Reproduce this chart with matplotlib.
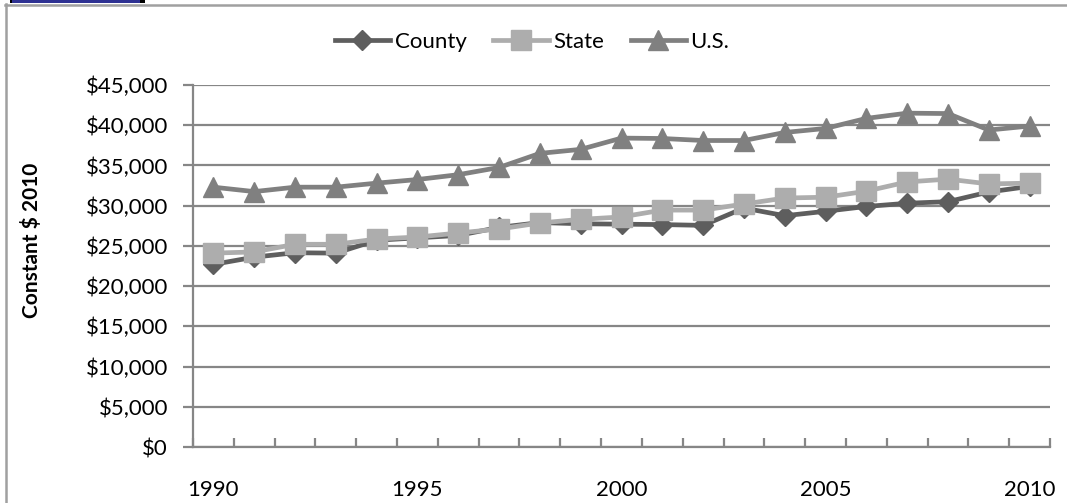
import matplotlib
matplotlib.use("Agg")
import matplotlib.pyplot as plt
from matplotlib.patches import Rectangle
from matplotlib.lines import Line2D
from matplotlib.ticker import FuncFormatter

years = list(range(1990, 2011))
county = [22700, 23600, 24150, 24100, 25700, 26000, 26300, 27300, 27900, 27750,
          27700, 27650, 27550, 29700, 28750, 29300, 29900, 30300, 30500, 31700, 32400]
state = [24100, 24250, 25200, 25200, 25850, 26100, 26600, 27100, 27850, 28300,
         28600, 29450, 29450, 30200, 30950, 31050, 31800, 32950, 33300, 32700, 32800]
us = [32300, 31750, 32300, 32300, 32800, 33250, 33850, 34750, 36500, 37000,
      38400, 38350, 38100, 38100, 39100, 39600, 40850, 41500, 41450, 39400, 39900]
series_names = ["County", "State", "U.S."]
y_ticks = [0, 5000, 10000, 15000, 20000, 25000, 30000, 35000, 40000, 45000]
x_labels = [1990, 1995, 2000, 2005, 2010]

plt.rcParams['font.family'] = ['Lato', 'DejaVu Sans']

W, H = 1067, 503
fig = plt.figure(figsize=(W / 100, H / 100), dpi=100)
ax = fig.add_axes([193 / W, 1 - 447 / H, (1050 - 193) / W, (447 - 85) / H])

gc = '#868686'
c_county, c_state, c_us = '#5e5e5e', '#adadad', '#808080'
fs = 16

ax.plot(years, county, color=c_county, lw=3.4, marker='D', ms=10, mec=c_county, label=series_names[0], zorder=3)
ax.plot(years, state, color=c_state, lw=3.4, marker='s', ms=14, mec=c_state, label=series_names[1], zorder=4)
ax.plot(years, us, color=c_us, lw=3.4, marker='^', ms=14, mec=c_us, label=series_names[2], zorder=3)

ax.set_xlim(1989.5, 2010.5)
ax.set_ylim(0, 45000)
ax.set_yticks(y_ticks)
ax.yaxis.set_major_formatter(FuncFormatter(lambda v, p: "${:,.0f}".format(v)))
ax.grid(axis='y', color=gc, lw=1.6)
ax.set_axisbelow(True)
for s in ['top', 'right']:
    ax.spines[s].set_visible(False)
for s in ['left', 'bottom']:
    ax.spines[s].set_color(gc)
    ax.spines[s].set_linewidth(1.6)

ax.set_xticks(x_labels)
ax.set_xticklabels([str(v) for v in x_labels])
ax.set_xticks([1989.5 + k for k in range(22)], minor=True)
ax.tick_params(axis='x', which='major', length=0, pad=24, labelsize=fs)
ax.tick_params(axis='x', which='minor', direction='in', length=6.5, width=1.6, color=gc)
ax.tick_params(axis='y', which='major', direction='out', length=7, width=1.6, color=gc, pad=11, labelsize=fs)

fig.text(32 / W, 1 - 240 / H, "Constant $ 2010", rotation=90, ha='center', va='center',
         fontsize=15, fontweight='bold')

handles = [Line2D([], [], color=c_county, lw=3.4, marker='D', ms=10),
           Line2D([], [], color=c_state, lw=3.4, marker='s', ms=14),
           Line2D([], [], color=c_us, lw=3.4, marker='^', ms=14)]
fig.legend(handles, series_names, loc='center', bbox_to_anchor=(532 / W, 1 - 42 / H), ncol=3,
           frameon=False, fontsize=fs, handlelength=2.5, handletextpad=0.2, columnspacing=1.2)

# outer frame lines
fig.add_artist(Line2D([5.5 / W, 5.5 / W], [0, 1 - 4 / H], transform=fig.transFigure, color='#a0a0a0', lw=1.8))
fig.add_artist(Line2D([5 / W, 1], [1 - 4.5 / H, 1 - 4.5 / H], transform=fig.transFigure, color='#a0a0a0', lw=1.8))
# header tab remnant
fig.add_artist(Rectangle((10 / W, 1 - 3 / H), 135 / W, 3 / H, transform=fig.transFigure, color='#000000', lw=0))
fig.add_artist(Rectangle((12 / W, 1 - 3 / H), 128 / W, 3 / H, transform=fig.transFigure, color='#2e3192', lw=0))

fig.savefig("out.png", dpi=100)
